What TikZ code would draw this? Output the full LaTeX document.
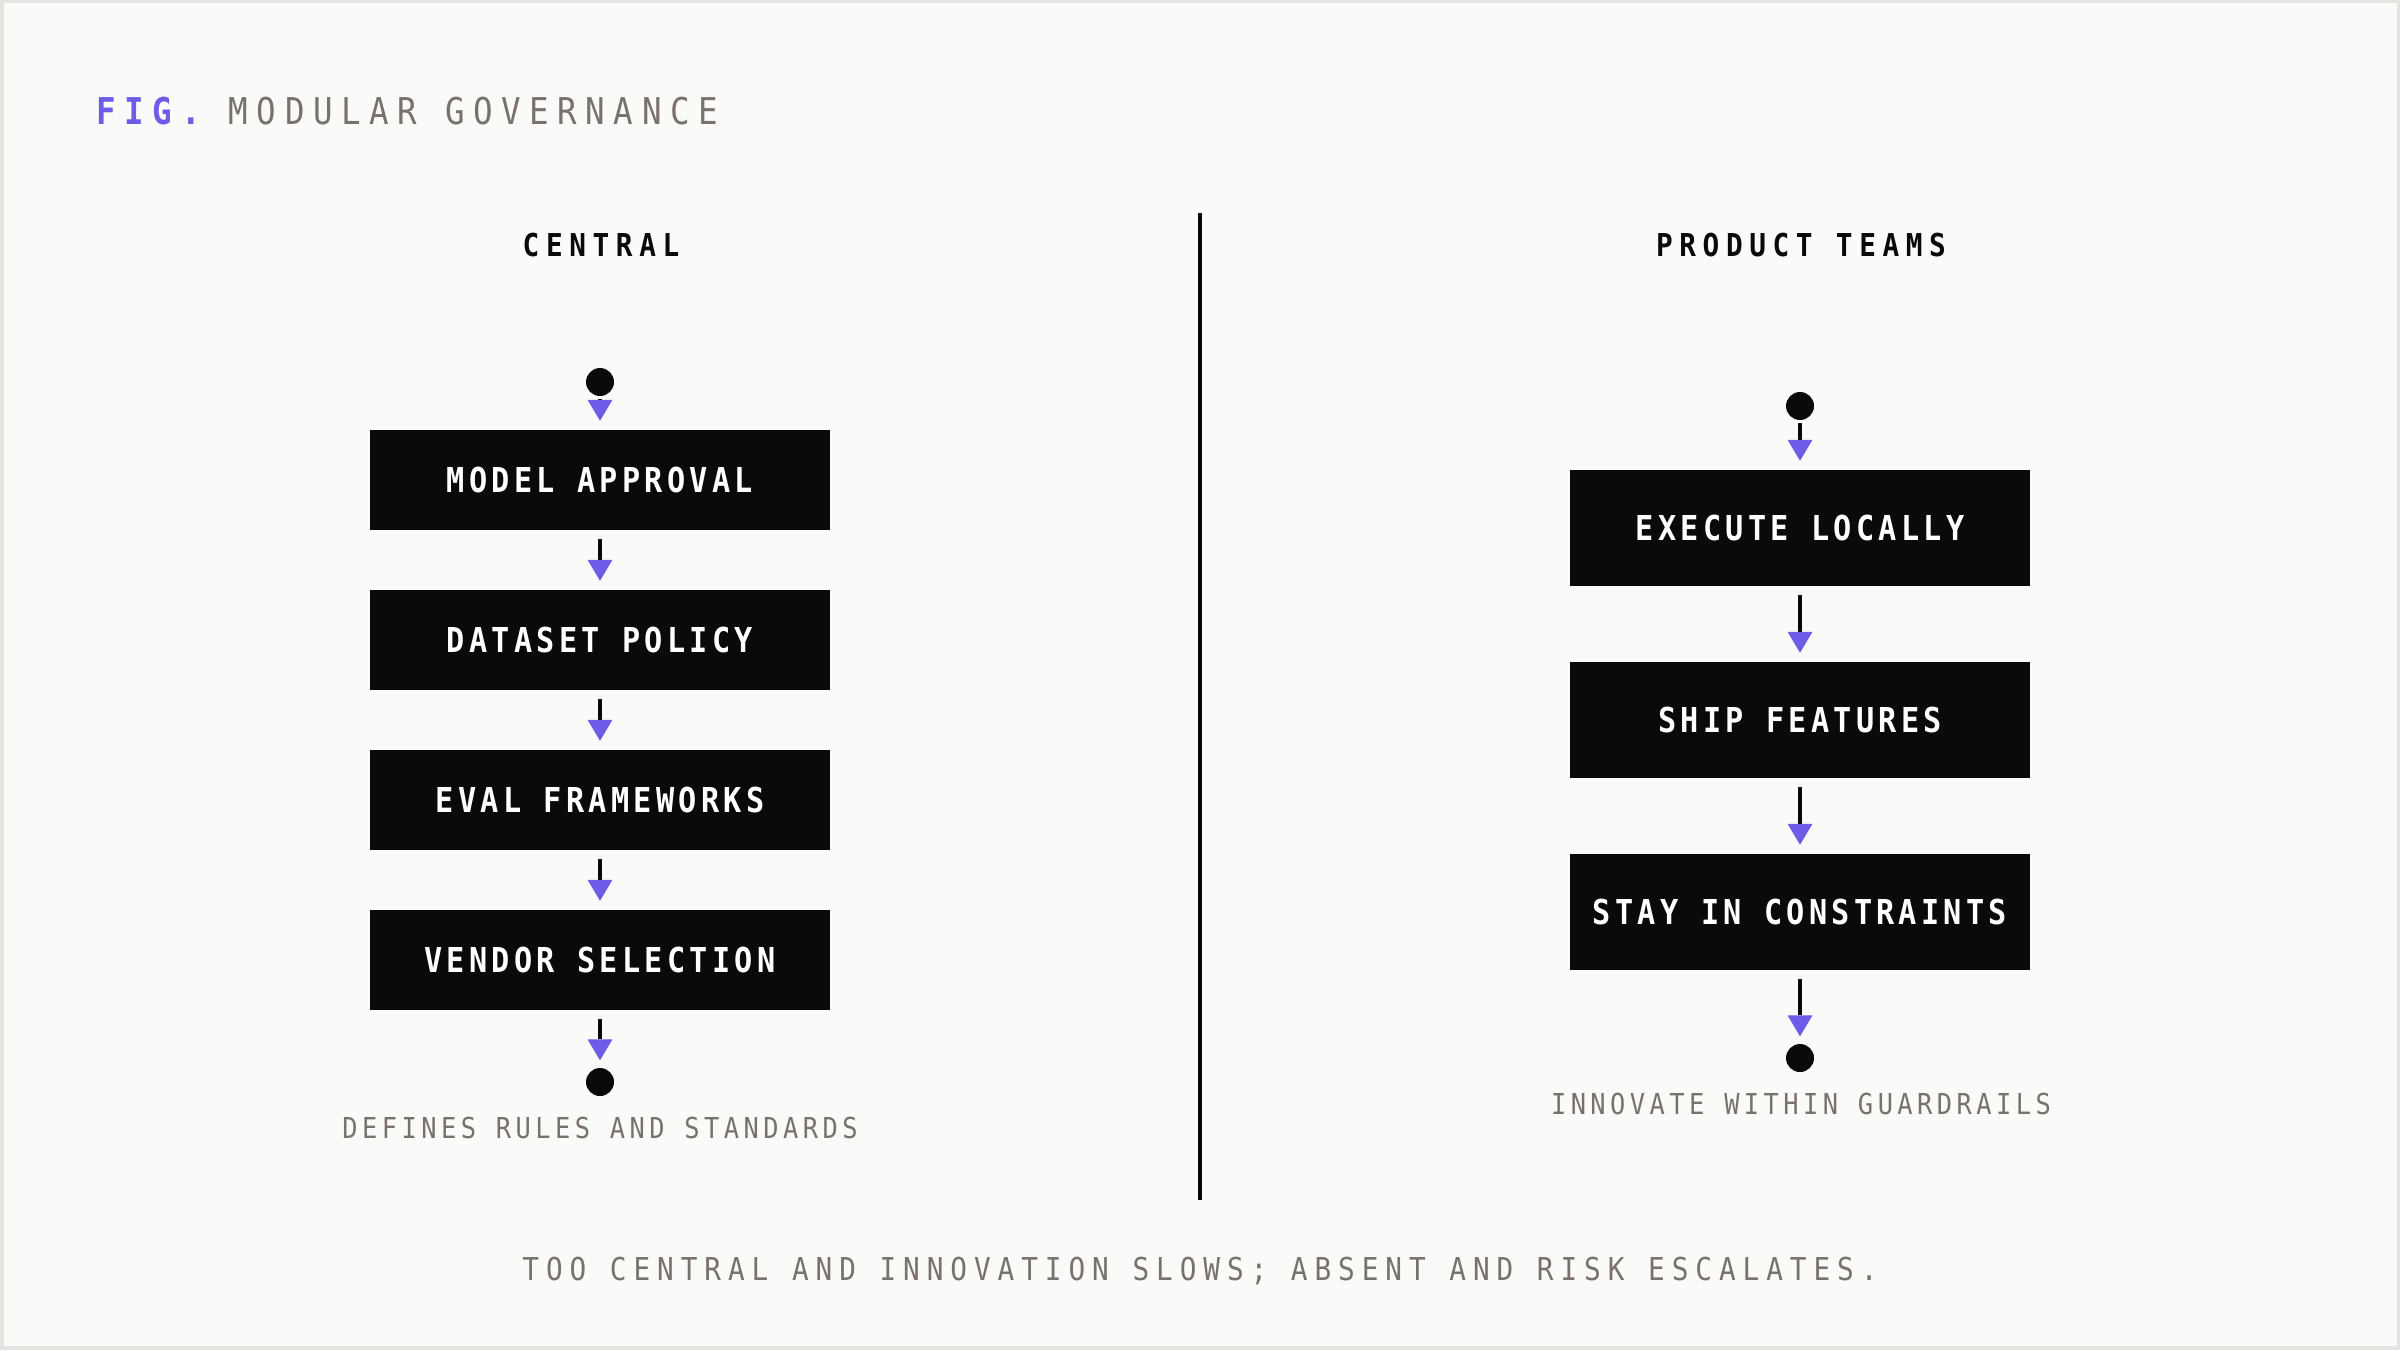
\documentclass[tikz,border=0pt]{standalone}
\usepackage{fontspec}
\usetikzlibrary{arrows.meta}
\newfontfamily\titlemono{DejaVu Sans Mono}[FakeStretch=0.88,LetterSpace=23.2]
\newfontfamily\headmono{DejaVu Sans Mono}[FakeStretch=0.88,LetterSpace=21]
\newfontfamily\boxmono{DejaVu Sans Mono}[FakeStretch=0.88,LetterSpace=12.5]
\newfontfamily\notemono{DejaVu Sans Mono}[FakeStretch=0.88,LetterSpace=15.5]
\newfontfamily\footmono{DejaVu Sans Mono}[FakeStretch=0.88,LetterSpace=22]
\definecolor{bg}{HTML}{FAFAF8}
\definecolor{frame}{HTML}{E5E4E1}
\definecolor{ink}{HTML}{0A0A0A}
\definecolor{accent}{HTML}{6C5CE7}
\definecolor{muted}{HTML}{78716C}
\begin{document}
\begin{tikzpicture}[x=0.01cm,y=-0.01cm,
	box/.style={fill=ink,minimum width=4.6cm,inner sep=0pt,text=white,font=\boxmono\bfseries\fontsize{9.76pt}{11pt}\selectfont},
	dot/.style={circle,fill=ink,minimum size=0.28cm,inner sep=0pt},
	flow/.style={draw=ink,line width=0.04cm,-{Triangle[length=0.21cm,width=0.25cm,color=accent,line width=0pt]},shorten <=0.08cm,shorten >=0.085cm},
	note/.style={anchor=base,inner sep=0pt,text=muted,font=\notemono\fontsize{8.2pt}{10pt}\selectfont},
	head/.style={anchor=base,inner sep=0pt,text=ink,font=\headmono\bfseries\fontsize{8.96pt}{10pt}\selectfont}]
	\useasboundingbox (0,0) rectangle (2400,1350);
	\fill[frame] (0,0) rectangle (2400,1350);
	\fill[bg] (4,3) rectangle (2397,1346);
	\path (1200,213) coordinate (T)
	(1200,1200) coordinate (U);
	\draw[ink,line width=0.04cm] (T)--(U);
	\node[anchor=base west,inner sep=0pt,text=muted,font=\titlemono\fontsize{10.5pt}{12pt}\selectfont] (title) at (96,124) {\textcolor{accent}{\bfseries FIG.} MODULAR GOVERNANCE};
	\node[head] (hc) at (601,256) {CENTRAL};
	\node[head] (hp) at (1801,256) {PRODUCT TEAMS};
	% central column
	\foreach \n/\y/\t in {1/480/MODEL APPROVAL,2/640/DATASET POLICY,3/800/EVAL FRAMEWORKS,4/960/VENDOR SELECTION}{
	\node[box,minimum height=1cm] (c\n) at (600,\y) {\t};
	}
	\node[dot] (cs) at (600,382) {};
	\node[dot] (ce) at (600,1082) {};
	\draw[flow,shorten <=0.02cm] (cs)--(c1);
	\foreach \a/\b in {c1/c2,c2/c3,c3/c4}{
	\draw[flow] (\a)--(\b);
	}
	\draw[flow,shorten >=0.07cm] (c4)--(ce);
	\node[note] (cl) at (600,1138) {DEFINES RULES AND STANDARDS};
	% product column
	\foreach \n/\y/\t in {1/528/EXECUTE LOCALLY,2/720/SHIP FEATURES,3/912/STAY IN CONSTRAINTS}{
	\node[box,minimum height=1.16cm] (p\n) at (1800,\y) {\t};
	}
	\node[dot] (ps) at (1800,406) {};
	\node[dot] (pe) at (1800,1058) {};
	\draw[flow,shorten <=0.02cm] (ps)--(p1);
	\foreach \a/\b in {p1/p2,p2/p3}{
	\draw[flow] (\a)--(\b);
	}
	\draw[flow,shorten >=0.07cm] (p3)--(pe);
	\node[note] (pl) at (1801,1114) {INNOVATE WITHIN GUARDRAILS};
	\node[anchor=base,inner sep=0pt,text=muted,font=\footmono\fontsize{8.96pt}{10pt}\selectfont] (foot) at (1200,1280) {TOO CENTRAL AND INNOVATION SLOWS; ABSENT AND RISK ESCALATES.};
\end{tikzpicture}
\end{document}
